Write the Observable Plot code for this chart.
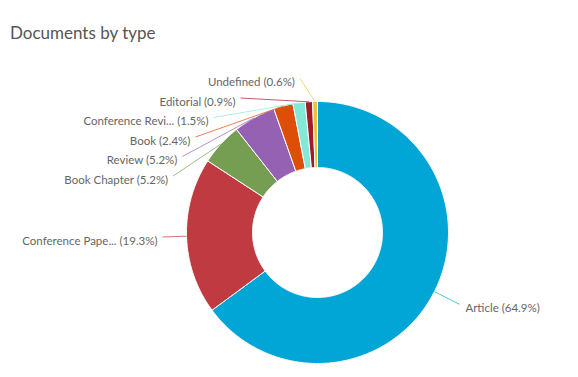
<!DOCTYPE html>
<html><head><meta charset="utf-8">
<script src="https://cdn.jsdelivr.net/npm/d3@7"></script>
<script src="https://cdn.jsdelivr.net/npm/@observablehq/plot@0.6"></script>
<style>
body{margin:0;background:#fff;font-family:Lato,"Noto Sans",sans-serif;}
#title{height:50px;box-sizing:border-box;padding:23px 0 0 10px;font-size:17px;color:#555;line-height:20px}
</style></head><body>
<div id="title">Documents by type</div>
<div id="chart"></div>
<script>
const categories = ["Article","Conference Paper","Book Chapter","Review","Book","Conference Review","Editorial","Undefined"];
const labels = ["Article","Conference Pape...","Book Chapter","Review","Book","Conference Revi...","Editorial","Undefined"];
const shares = [64.9,19.3,5.2,5.2,2.4,1.5,0.9,0.6];
const colors = ["#02a6d6","#bf3a41","#769e52","#9561b3","#dd4f08","#83e8d8","#a11b2b","#ecc43c"];

const W = 578, H = 327, CX = 317, CY = 182;
const R = 131, R0 = 65, LABEL_R = 159, LEFT_X_R = 155, TOP = 154, GAP = 19.5;

const arcs = d3.pie().sort(null).value(d => d)(shares);

// slice outlines
const pts = [];
arcs.forEach((a, i) => {
  const span = a.endAngle - a.startAngle;
  const n = Math.max(2, Math.ceil(span / 0.01));
  const ring = [];
  for (let k = 0; k <= n; k++) { const t = a.startAngle + span * k / n; ring.push([R * Math.sin(t), R * Math.cos(t)]); }
  for (let k = n; k >= 0; k--) { const t = a.startAngle + span * k / n; ring.push([R0 * Math.sin(t), R0 * Math.cos(t)]); }
  ring.push(ring[0]);
  ring.forEach(p => pts.push({cat: categories[i], x: p[0], y: p[1]}));
});

// label layout
const items = arcs.map((a, i) => {
  const m = (a.startAngle + a.endAngle) / 2;
  return {cat: categories[i], text: `${labels[i]} (${shares[i].toFixed(1)}%)`, side: m > Math.PI ? -1 : 1,
          ex: R * Math.sin(m), ey: R * Math.cos(m), ny: LABEL_R * Math.cos(m)};
});
for (const side of [-1, 1]) {
  const group = items.filter(d => d.side === side).sort((a, b) => b.ny - a.ny);
  const rx = side < 0 ? LEFT_X_R : LABEL_R;
  let prev = TOP + GAP;
  for (const d of group) {
    d.ly = Math.min(d.ny, TOP, prev - GAP);
    prev = d.ly;
    d.lx = side * Math.sqrt(Math.max(rx * rx - d.ly * d.ly, 0));
  }
}
const left = items.filter(d => d.side < 0), right = items.filter(d => d.side > 0);

const chart = Plot.plot({
  width: W, height: H,
  margin: 0,
  style: {background: "#fff", fontFamily: "Lato, 'Noto Sans', sans-serif"},
  x: {domain: [-CX, W - CX], range: [0, W], axis: null},
  y: {domain: [-(H - CY), CY], range: [H, 0], axis: null},
  color: {domain: categories, range: colors},
  marks: [
    Plot.line(pts, {x: "x", y: "y", z: "cat", fill: "cat", stroke: "#fff", strokeWidth: 1, curve: "linear"}),
    Plot.link(items, {x1: "lx", y1: "ly", x2: "ex", y2: "ey", stroke: "cat", strokeWidth: 1, strokeOpacity: 0.7}),
    Plot.text(left, {x: "lx", y: "ly", text: "text", textAnchor: "end", dx: -5, dy: 4, fill: "#666", fontSize: 11.5}),
    Plot.text(right, {x: "lx", y: "ly", text: "text", textAnchor: "start", dx: 6, dy: 4, fill: "#666", fontSize: 11.5})
  ]
});
document.getElementById("chart").appendChild(chart);
</script>
</body></html>
